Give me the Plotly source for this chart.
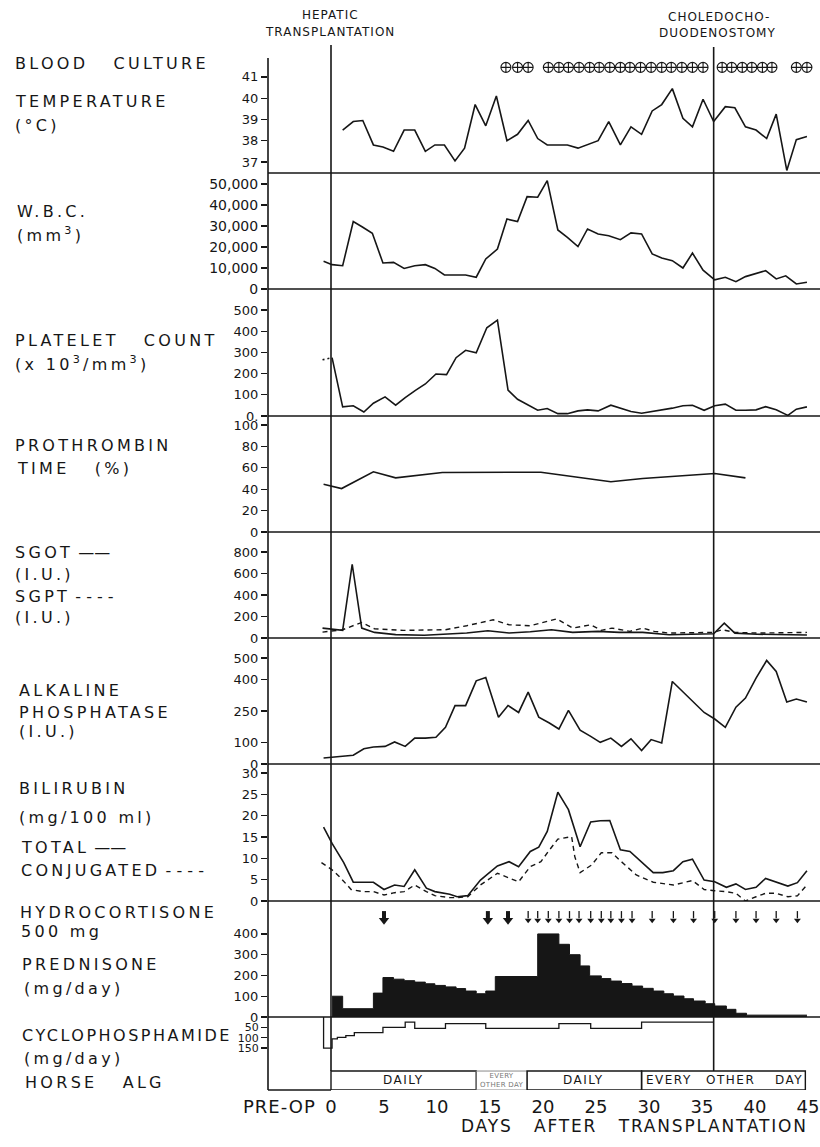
import plotly.graph_objects as go

# ---------------- data ----------------
x_tick_days = [0, 5, 10, 15, 20, 25, 30, 35, 40, 45]
x_tick_text = ["0", "5", "10", "15", "20", "25", "30", "35", "40", "45"]

culture_days = [16.5, 17.6, 18.6, 20.5, 21.5, 22.4, 23.4, 24.4, 25.3, 26.3, 27.3, 28.2,
                29.2, 30.2, 31.2, 32.1, 33.1, 34.1, 35.1, 36.9, 37.8, 38.8, 39.7, 40.7,
                41.6, 43.9, 44.9]

temp_days = [1.1, 2.1, 3.0, 4.0, 4.9, 5.9, 6.9, 7.9, 8.9, 9.8, 10.7, 11.7, 12.6, 13.6, 14.6,
             15.6, 16.6, 17.6, 18.6, 19.5, 20.4, 21.4, 22.3, 23.3, 24.2, 25.2, 26.2, 27.3,
             28.3, 29.3, 30.3, 31.2, 32.2, 33.2, 34.1, 35.1, 36.1, 37.2, 38.1, 39.1, 40.1,
             41.1, 42.0, 43.0, 43.9, 44.9]
temp_vals = [38.5, 38.9, 38.95, 37.8, 37.7, 37.5, 38.5, 38.5, 37.5, 37.8, 37.8, 37.05, 37.65,
             39.7, 38.7, 40.1, 38.0, 38.3, 38.95, 38.1, 37.8, 37.8, 37.8, 37.65, 37.8, 38.0,
             38.9, 37.8, 38.65, 38.3, 39.4, 39.7, 40.45, 39.05, 38.65, 39.95, 38.9, 39.6,
             39.55, 38.65, 38.5, 38.1, 39.25, 36.6, 38.05, 38.2]

wbc_days = [-0.7, 0.1, 1.1, 2.1, 3.0, 3.9, 4.9, 5.9, 6.9, 7.9, 8.9, 9.8, 10.7, 11.7, 12.7,
            13.7, 14.6, 15.7, 16.6, 17.6, 18.5, 19.5, 20.4, 21.4, 22.3, 23.3, 24.2, 25.2,
            26.2, 27.3, 28.3, 29.3, 30.3, 31.2, 32.2, 33.2, 34.1, 35.1, 36.2, 37.2, 38.2,
            39.1, 40.1, 41.0, 42.0, 42.9, 43.9, 44.9]
wbc_vals = [13200, 11600, 11100, 32100, 29400, 26500, 12400, 12700, 9800, 11100, 11600, 9800,
            6700, 6700, 6700, 5600, 14300, 19000, 33300, 32100, 44000, 43700, 51600, 28100,
            24600, 20200, 28600, 26200, 25400, 23500, 26700, 26200, 16700, 14800, 13500,
            10000, 17100, 9000, 4400, 5600, 3500, 5900, 7500, 8700, 4800, 6300, 2400, 3200]

plt_days = [-0.8, 0.1, 1.1, 2.1, 3.1, 4.0, 5.1, 6.1, 7.0, 8.0, 8.9, 9.9, 10.9, 11.8, 12.7,
            13.7, 14.7, 15.7, 16.7, 17.6, 18.6, 19.5, 20.4, 21.4, 22.3, 23.3, 24.2, 25.2,
            26.4, 27.3, 28.3, 29.3, 30.3, 31.2, 32.2, 33.2, 34.1, 35.2, 36.2, 37.2, 38.2,
            39.1, 40.1, 41.0, 42.0, 43.1, 43.9, 44.9]
plt_vals = [265, 275, 43, 48, 19, 60, 90, 51, 87, 122, 151, 198, 195, 275, 310, 298, 416, 452,
            122, 79, 51, 27, 35, 11, 11, 24, 29, 24, 51, 37, 21, 13, 21, 29, 37, 48, 51, 27,
            48, 56, 27, 27, 29, 44, 29, 3, 32, 43]

pt_days = [-0.7, 0.1, 1.0, 4.0, 6.1, 10.5, 12.3, 19.8, 26.4, 29.4, 36.2, 39.1]
pt_vals = [44.7, 42.8, 40.6, 56.3, 50.6, 55.6, 55.6, 55.9, 46.9, 50.0, 54.7, 50.6]

sgot_days = [-0.8, 1.1, 2.0, 2.9, 4.1, 6.1, 8.8, 11.0, 12.8, 14.8, 16.8, 18.8, 20.8, 22.8,
             25.2, 27.2, 29.4, 31.9, 36.1, 37.1, 38.1, 40.2, 43.6, 44.9]
sgot_vals = [92, 71, 686, 92, 52, 31, 25, 40, 46, 68, 46, 58, 77, 52, 62, 52, 52, 30, 40,
             138, 45, 35, 28, 28]

sgpt_days = [-0.8, 1.1, 2.9, 4.1, 6.8, 10.8, 12.8, 15.3, 16.8, 18.8, 21.3, 22.8, 24.5, 25.5,
             26.5, 28.2, 29.4, 30.5, 31.9, 36.1, 36.9, 38.1, 40.2, 44.9]
sgpt_vals = [55, 77, 145, 86, 71, 77, 114, 169, 123, 114, 178, 92, 123, 71, 92, 62, 92, 62,
             46, 52, 77, 52, 46, 52]

alk_days = [-0.7, 0.1, 1.1, 2.1, 3.1, 4.0, 5.1, 6.0, 7.0, 7.9, 8.9, 9.9, 10.8, 11.7, 12.7,
            13.7, 14.6, 15.8, 16.7, 17.7, 18.6, 19.6, 20.6, 21.5, 22.4, 23.5, 24.5, 25.4,
            26.4, 27.4, 28.3, 29.3, 30.2, 31.2, 32.2, 35.2, 36.2, 37.2, 38.2, 39.1, 40.1,
            41.1, 42.0, 43.0, 43.9, 44.9]
alk_vals = [28, 31, 36, 41, 72, 80, 83, 104, 83, 122, 122, 126, 173, 275, 275, 392, 408, 220,
            276, 243, 339, 221, 193, 165, 253, 159, 130, 102, 122, 83, 119, 63, 115, 99, 389,
            243, 212, 173, 268, 311, 405, 488, 436, 292, 306, 292]

bili_total_days = [-0.7, 0.1, 1.2, 2.1, 4.0, 5.0, 6.0, 6.9, 7.9, 9.0, 9.8, 11.2, 11.9, 12.9,
                   14.1, 15.7, 16.8, 17.7, 18.8, 19.6, 20.4, 21.4, 22.4, 23.5, 24.5, 25.4,
                   26.3, 27.3, 28.2, 30.4, 31.3, 32.3, 33.2, 34.1, 35.2, 36.2, 37.3, 38.2,
                   39.1, 40.1, 41.0, 42.0, 43.1, 44.0, 44.9]
bili_total_vals = [17.3, 13.5, 9.0, 4.4, 4.4, 2.7, 3.75, 3.4, 7.3, 3.0, 2.2, 1.6, 1.0, 1.25,
                   4.9, 8.2, 9.2, 8.05, 11.6, 12.6, 16.3, 25.5, 21.4, 12.7, 18.5, 18.8,
                   18.85, 12.0, 11.6, 6.65, 6.65, 7.1, 9.2, 9.8, 4.9, 4.5, 3.2, 4.0, 2.7,
                   3.2, 5.3, 4.5, 3.5, 4.3, 7.1]

bili_conj_days = [-0.9, 0.1, 0.8, 1.9, 3.0, 4.0, 5.0, 6.0, 6.9, 7.9, 9.0, 9.8, 11.2, 11.9,
                  12.9, 14.1, 15.7, 16.8, 17.7, 18.8, 19.8, 20.5, 21.4, 22.7, 23.0, 23.5,
                  24.6, 25.5, 26.5, 27.4, 28.8, 30.4, 32.3, 34.1, 35.2, 36.2, 37.3, 38.2,
                  39.1, 40.1, 41.0, 42.0, 43.1, 44.0, 44.9]
bili_conj_vals = [9.0, 7.3, 5.7, 2.7, 2.2, 2.2, 1.4, 1.95, 2.2, 3.75, 2.2, 1.25, 0.8, 0.8,
                  1.0, 3.75, 6.5, 5.3, 4.5, 8.05, 9.2, 11.6, 14.5, 15.1, 10.4, 6.65, 8.45,
                  11.3, 11.3, 9.2, 6.1, 4.4, 3.75, 4.8, 2.7, 2.4, 2.2, 1.8, 0.0, 1.0, 1.8,
                  1.8, 1.0, 1.2, 3.75]

hydro_bold_days = [5.0, 14.8, 16.7]
hydro_days = [18.6, 19.5, 20.5, 21.5, 22.5, 23.4, 24.5, 25.5, 26.4, 27.4, 28.4, 30.3, 32.3,
              34.2, 36.2, 38.2, 40.1, 42.0, 44.0]

pred_start = [0.1, 1.1, 4.0, 4.9, 5.9, 6.9, 7.9, 8.9, 9.8, 10.8, 11.8, 12.7, 13.7, 14.6, 15.5,
              19.5, 21.5, 22.5, 23.5, 24.4, 25.5, 26.4, 27.4, 28.4, 29.4, 30.4, 31.4, 32.3,
              33.3, 34.2, 35.3, 36.2, 37.3, 38.2, 39.2]
pred_vals = [100, 40, 115, 190, 182, 175, 168, 160, 152, 145, 137, 125, 112, 125, 195, 400,
             350, 300, 246, 198, 185, 173, 161, 149, 138, 125, 112, 101, 88, 77, 64, 53, 37,
             18, 9]
pred_end = 44.9

cyc_start = [-0.7, 0.1, 0.6, 1.4, 2.2, 4.9, 7.0, 7.9, 10.8, 14.6, 21.5, 24.5, 29.3]
cyc_vals = [150, 105, 98, 90, 75, 50, 25, 55, 32, 55, 32, 55, 25]
cyc_end = 36.1

alg_start = [0.0, 13.7, 18.5, 29.3]
alg_end = [13.7, 18.5, 29.3, 44.75]

transplant_day = 0.0
choledocho_day = 36.1

# ---------------- layout constants ----------------
W, H = 820, 1147
FONT = "DejaVu Sans"
INK = "#161616"
DAY0_PX, PX_PER_DAY = 331.0, 10.6
X_LEFT_PX, X_RIGHT_PX = 268.0, 818.0
x_range = [(X_LEFT_PX - DAY0_PX) / PX_PER_DAY, (X_RIGHT_PX - DAY0_PX) / PX_PER_DAY]


def ydom(top, bottom):
    return [1 - bottom / H, 1 - top / H]


def py(ypx):
    return 1 - ypx / H


def spaced(text, ls):
    return '<span style="letter-spacing:%spx">%s</span>' % (ls, text)


panels = [
    # name, top px, bottom px, range, tickvals, ticktext, font size
    ("y", 58, 173, [36.48, 41.89], [37, 38, 39, 40, 41], ["37", "38", "39", "40", "41"], 13),
    ("y2", 173, 289, [0, 55240], [0, 10000, 20000, 30000, 40000, 50000],
     ["0", "10,000", "20,000", "30,000", "40,000", "50,000"], 14),
    ("y3", 289, 416, [0, 599], [0, 100, 200, 300, 400, 500],
     ["0.", "100", "200", "300", "400", "500"], 13),
    ("y4", 416, 532, [0, 108.4], [0, 20, 40, 60, 80, 100],
     ["0", "20", "40", "60", "80", "100"], 13),
    ("y5", 532, 638, [0, 986], [0, 200, 400, 600, 800], ["0", "200", "400", "600", "800"], 13),
    ("y6", 638, 764, [0, 594], [0, 100, 250, 400, 500], ["0", "100", "250", "400", "500"], 13),
    ("y7", 764, 901, [0, 32.1], [0, 5, 10, 15, 20, 25, 30],
     ["0", "5", "10", "15", "20", "25", "30"], 13),
    ("y8", 901, 925, [0, 1], [], [], 13),
    ("y9", 925, 1017, [0, 443], [0, 100, 200, 300, 400], ["0", "100", "200", "300", "400"], 13),
    ("y10", 1017, 1066, [236, 0], [50, 100, 150], ["50", "100", "150"], 11),
    ("y11", 1066, 1090, [0, 1], [], [], 13),
]

fig = go.Figure()


def add_line(x, y, axis, dash=None, width=1.6, shape="linear"):
    fig.add_trace(go.Scatter(x=x, y=y, mode="lines", xaxis="x", yaxis=axis,
                             line=dict(color=INK, width=width, dash=dash, shape=shape),
                             hoverinfo="skip", showlegend=False))


# blood culture markers
fig.add_trace(go.Scatter(x=culture_days, y=[41.45] * len(culture_days), mode="markers",
                         xaxis="x", yaxis="y",
                         marker=dict(symbol="circle-cross-open", size=10, color=INK,
                                     line=dict(width=1.1, color=INK)),
                         hoverinfo="skip", showlegend=False))
add_line(temp_days, temp_vals, "y")
add_line(wbc_days, wbc_vals, "y2")
add_line(plt_days[:2], plt_vals[:2], "y3", dash="2px,3px", width=1.6)   # pre-op (dotted)
add_line(plt_days[1:], plt_vals[1:], "y3")
add_line(pt_days, pt_vals, "y4")
add_line(sgot_days, sgot_vals, "y5")
add_line(sgpt_days, sgpt_vals, "y5", dash="5px,4px", width=1.4)
add_line(alk_days, alk_vals, "y6")
add_line(bili_total_days, bili_total_vals, "y7")
add_line(bili_conj_days, bili_conj_vals, "y7", dash="5px,4px", width=1.4)

# hydrocortisone arrows
for days, w, msize in ((hydro_days, 1.3, 6), (hydro_bold_days, 4.0, 9)):
    sx, sy = [], []
    for d in days:
        sx += [d, d, None]
        sy += [0.58, 0.28, None]
    fig.add_trace(go.Scatter(x=sx, y=sy, mode="lines", xaxis="x", yaxis="y8",
                             line=dict(color=INK, width=w), hoverinfo="skip",
                             showlegend=False))
    fig.add_trace(go.Scatter(x=days, y=[0.2] * len(days), mode="markers", xaxis="x",
                             yaxis="y8",
                             marker=dict(symbol="triangle-down", size=msize, color=INK,
                                         line=dict(width=0)),
                             hoverinfo="skip", showlegend=False))

# prednisone filled steps
fig.add_trace(go.Scatter(x=pred_start + [pred_end], y=pred_vals + [pred_vals[-1]],
                         mode="lines", xaxis="x", yaxis="y9", fill="tozeroy",
                         fillcolor=INK, line=dict(color=INK, width=1, shape="hv"),
                         hoverinfo="skip", showlegend=False))

# cyclophosphamide steps (downward)
add_line([cyc_start[0]] + cyc_start + [cyc_end], [0] + cyc_vals + [cyc_vals[-1]], "y10",
         width=1.3, shape="hv")

# ---------------- axes ----------------
layout = dict(
    width=W, height=H, margin=dict(l=0, r=0, t=0, b=0, autoexpand=False),
    paper_bgcolor="white", plot_bgcolor="white", showlegend=False,
    xaxis=dict(domain=[X_LEFT_PX / W, X_RIGHT_PX / W], range=x_range, anchor="y11",
               tickmode="array", tickvals=x_tick_days, ticktext=x_tick_text, ticks="",
               showgrid=False, zeroline=False, showline=False, ticklabelstandoff=4,
               ticklabeloverflow="allow",
               tickfont=dict(family=FONT, size=18, color=INK), fixedrange=True,
               automargin=False),
)
for name, top, bottom, rng, tv, tt, fs in panels:
    key = "yaxis" if name == "y" else "yaxis" + name[1:]
    layout[key] = dict(domain=ydom(top, bottom), range=rng, anchor="x",
                       tickmode="array", tickvals=tv, ticktext=tt,
                       ticks="outside" if tv else "", ticklen=6, tickwidth=1.3,
                       tickcolor=INK, showgrid=False, zeroline=False, showline=False,
                       tickfont=dict(family=FONT, size=fs, color=INK), fixedrange=True,
                       automargin=False)
fig.update_layout(**layout)

# ---------------- frame lines ----------------
shapes = []
lw = 1.6
xl = X_LEFT_PX / W
shapes.append(dict(type="line", xref="paper", yref="paper", x0=xl, x1=xl,
                   y0=py(58), y1=py(1090), line=dict(color=INK, width=lw)))
for name in ("y", "y2", "y3", "y4", "y5", "y6", "y7", "y9"):
    shapes.append(dict(type="line", xref="paper", yref=name + " domain", x0=xl, x1=1.0,
                       y0=0, y1=0, line=dict(color=INK, width=lw)))
shapes.append(dict(type="line", xref="x", yref="paper", x0=transplant_day,
                   x1=transplant_day, y0=py(45), y1=py(1071),
                   line=dict(color=INK, width=lw)))
shapes.append(dict(type="line", xref="x", yref="paper", x0=choledocho_day,
                   x1=choledocho_day, y0=py(47), y1=py(1071),
                   line=dict(color=INK, width=lw)))
shapes.append(dict(type="line", xref="x", yref="y11 domain", x0=x_range[0],
                   x1=transplant_day, y0=0, y1=0, line=dict(color=INK, width=lw)))
for i, (a, b) in enumerate(zip(alg_start, alg_end)):
    col = "#8a8a8a" if i == 1 else INK
    shapes.append(dict(type="rect", xref="x", yref="y11", x0=a, x1=b, y0=0, y1=0.79,
                       line=dict(color=col, width=1.4 if i != 1 else 1.0)))
fig.update_layout(shapes=shapes)

# ---------------- text ----------------
ann = []


def label(text, xpx, ypx, size=16, ls=3.3, anchor="left", color=INK, tail=""):
    body = (spaced(text, ls) if ls else text) + tail
    ann.append(dict(text=body, xref="paper", yref="paper",
                    x=xpx / W, y=py(ypx), xanchor=anchor, yanchor="middle",
                    showarrow=False, font=dict(family=FONT, size=size, color=color)))


NB = "\u00a0"
left_labels = [
    ("BLOOD" + NB * 3 + "CULTURE", 13, 64, "", 3.3),
    ("TEMPERATURE", 13, 102, "", 3.3),
    ("(°C)", 13, 126, "", 3.3),
    ("W.B.C.", 15, 212, "", 3.3),
    ("(mm<sup>3</sup>)", 15, 234, "", 3.3),
    ("PLATELET" + NB * 3 + "COUNT", 13, 340, "", 3.3),
    ("(x" + NB + "10<sup>3</sup>/mm<sup>3</sup>)", 13, 363, "", 3.3),
    ("PROTHROMBIN", 13, 446, "", 3.3),
    ("TIME" + NB * 3 + "(%)", 15, 468, "", 3.3),
    ("SGOT", 13, 553, NB + "——", 3.3),
    ("(I.U.)", 13, 574, "", 3.3),
    ("SGPT", 13, 596, NB + "- - - -", 3.3),
    ("(I.U.)", 13, 617, "", 3.3),
    ("ALKALINE", 17, 690, "", 3.3),
    ("PHOSPHATASE", 17, 712, "", 3.3),
    ("(I.U.)", 17, 731, "", 3.3),
    ("BILIRUBIN", 17, 788, "", 3.3),
    ("(mg/100" + NB + "ml)", 17, 817, "", 3.3),
    ("TOTAL", 19, 847, NB + "——", 3.3),
    ("CONJUGATED", 19, 870, NB + "- - - -", 3.3),
    ("HYDROCORTISONE", 18, 912, "", 3.3),
    ("500" + NB + "mg", 19, 931, "", 3.3),
    ("PREDNISONE", 20, 964, "", 3.3),
    ("(mg/day)", 22, 988, "", 3.3),
    ("CYCLOPHOSPHAMIDE", 20, 1035, "", 2.5),
    ("(mg/day)", 22, 1058, "", 3.3),
    ("HORSE" + NB * 3 + "ALG", 23, 1082, "", 3.3),
]
for t, xp, yp, tail, ls in left_labels:
    label(t, xp, yp, tail=tail, ls=ls)

label("HEPATIC", 330, 15, size=12, ls=1.0, anchor="center")
label("TRANSPLANTATION", 330, 32, size=12, ls=1.0, anchor="center")
label("CHOLEDOCHO-", 719, 17, size=12, ls=1.0, anchor="center")
label("DUODENOSTOMY", 717, 33, size=12, ls=1.0, anchor="center")
label("PRE-OP", 318, 1106, size=18, ls=1.0, anchor="right")
label("DAYS" + NB * 3 + "AFTER" + NB * 3 + "TRANSPLANTATION", 810, 1126, size=17, ls=1.8,
      anchor="right")

# horse ALG box texts
alg_texts = [("DAILY", 6.8, 12, 1.5, INK), ("DAILY", 23.8, 12, 1.5, INK),
             ("EVERY", 31.9, 12, 1.5, INK), ("OTHER", 37.7, 12, 1.5, INK),
             ("DAY", 43.2, 12, 1.5, INK), ("EVERY<br>OTHER DAY", 16.1, 7, 0.3, "#777")]
for t, d, fs, ls, col in alg_texts:
    ann.append(dict(text=spaced(t, ls), xref="x", yref="y11", x=d, y=0.4, xanchor="center",
                    yanchor="middle", showarrow=False,
                    font=dict(family=FONT, size=fs, color=col)))

fig.update_layout(annotations=ann)
fig.write_html("out.html", config={"displayModeBar": False, "staticPlot": True},
               post_script="document.body.style.margin='0px';"
                           "document.body.style.overflow='hidden';")
